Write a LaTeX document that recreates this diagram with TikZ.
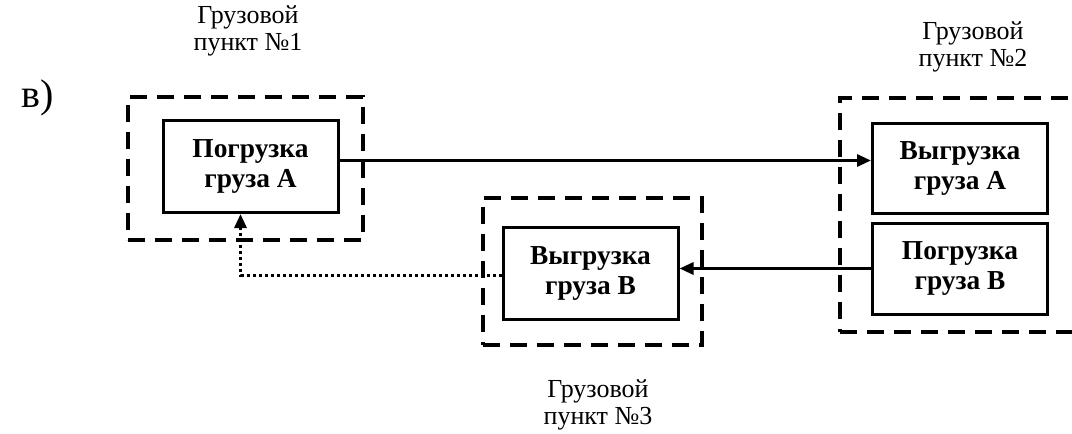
\documentclass[tikz,border=0pt]{standalone}
\usepackage{fontspec}
\setmainfont{Liberation Serif}
\usetikzlibrary{arrows.meta}

\tikzset{
    op/.style={draw, line width=1.5pt, minimum width=87.5pt, minimum height=46pt,
        align=center, font=\fontsize{13.7}{15}\selectfont\bfseries, inner sep=0pt},
    zone/.style={draw, line width=2pt, dash pattern=on 8.5pt off 5pt, inner sep=0pt},
    caption/.style={align=center, font=\fontsize{13}{13.5}\selectfont},
    flow/.style={line width=1.5pt, -{Triangle[length=7pt,width=6pt]}},
}

\begin{document}
\begin{tikzpicture}[x=0.5pt, y=-0.5pt]
                \useasboundingbox (0, 0) rectangle (1072, 434);

                \node[font=\fontsize{20}{22}\selectfont] (tag) at (38, 98) {в)};

                % грузовые пункты
                \node[zone, minimum width=117.5pt, minimum height=71.5pt] (p1) at (245.5, 168.5) {};
                \node[zone, minimum width=120pt, minimum height=117pt] (p2) at (960, 215) {};
                \node[zone, minimum width=109.5pt, minimum height=73.5pt] (p3) at (592.5, 271.5) {};

                \node[caption] (c1) at (248, 31) {Грузовой\\пункт №1};
                \node[caption] (c2) at (973, 47) {Грузовой\\пункт №2};
                \node[caption] (c3) at (598, 405) {Грузовой\\пункт №3};

                % операции
                \node[op] (pa) at (250.5, 166.5) {Погрузка\\груза А};
                \node[op, minimum height=45pt] (va) at (960, 168) {Выгрузка\\груза А};
                \node[op, minimum height=45.5pt] (pb) at (960, 268.5) {Погрузка\\груза В};
                \node[op] (vb) at (590.5, 273) {Выгрузка\\груза В};

                \draw[flow] ([yshift=3pt]pa.east) -- ([yshift=3pt]pa.east -| va.west);
                \draw[flow] (pb.west) -- (pb.west -| vb.east);
                \draw[flow, dash pattern=on 1.5pt off 1.5pt] ([yshift=-1pt]vb.west) -| ([xshift=-5pt]pa.south);

            \end{tikzpicture}
\end{document}
